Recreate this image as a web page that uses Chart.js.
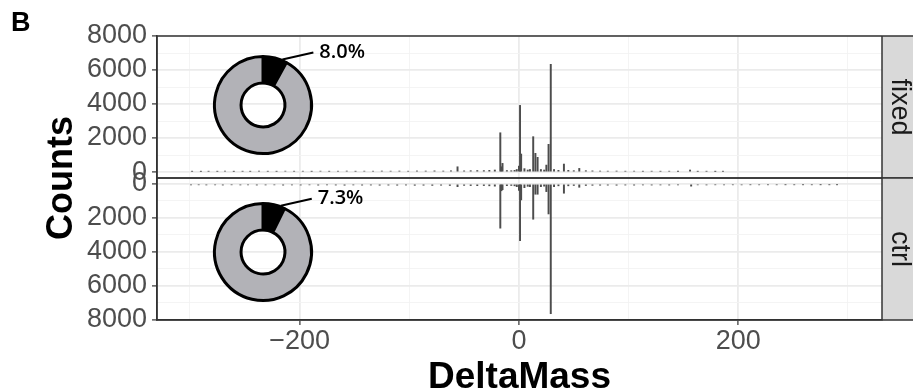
<!DOCTYPE html>
<html>
<head>
<meta charset="utf-8">
<script src="https://cdn.jsdelivr.net/npm/chart.js@4.4.1/dist/chart.umd.min.js"></script>
<style>
  html, body { margin: 0; padding: 0; background: #fff; }
  #wrap { position: relative; width: 913px; height: 392px; }
  #wrap canvas { position: absolute; }
</style>
</head>
<body>
<div id="wrap">
  <canvas id="histChart" width="913" height="392" style="left:0;top:0"></canvas>
  <canvas id="donutFixed" width="180" height="140" style="left:203px;top:25px"></canvas>
  <canvas id="donutCtrl" width="180" height="140" style="left:203px;top:172px"></canvas>
</div>
<script>
// DeltaMass bins (Da) and PSM counts
const fixedMass = [
  -298, -290, -283, -275, -268, -260, -252, -245, -237, -229, -221, -213, -205, -197, -189,
  -181, -173, -165, -157, -149, -141, -133, -125, -117, -109, -101, -93, -85, -77, -69, -62,
  -56, -50, -44, -38, -32, -27, -22, -17, -16, -15, -11, -7, -4, -2, 0, 1, 2, 5, 8, 10,
  13, 15, 17, 20, 23, 25, 27, 29, 32, 36, 41, 45, 50, 55, 61, 67, 74, 81, 89, 97,
  105, 113, 121, 129, 137, 145, 156, 163, 171, 179, 186
];
const fixedCounts = [
  40, 35, 45, 40, 50, 35, 45, 40, 50, 45, 40, 55, 45, 50, 40,
  55, 45, 50, 60, 45, 55, 50, 60, 55, 60, 50, 65, 60, 70, 60, 75,
  310, 70, 80, 90, 85, 100, 120, 2310, 310, 510, 90, 80, 100, 150, 350, 3920, 1060, 200, 120, 150,
  2080, 1100, 865, 150, 120, 410, 1630, 6335, 150, 100, 470, 100, 80, 215, 80, 70, 60, 55, 60, 50,
  55, 45, 50, 45, 50, 40, 120, 40, 45, 35, 40
];
const ctrlMass = [
  -299, -292, -285, -277, -270, -262, -254, -247, -239, -231, -223, -215, -207, -199, -191,
  -183, -175, -167, -159, -151, -143, -135, -127, -119, -111, -103, -95, -87, -79, -71, -63,
  -56, -50, -44, -38, -32, -27, -22, -17, -16, -15, -11, -7, -4, -2, 0, 1, 2, 5, 8, 10,
  13, 15, 17, 20, 23, 25, 27, 29, 32, 36, 41, 45, 50, 55, 61, 67, 74, 81, 89, 97,
  105, 113, 121, 129, 137, 145, 157, 163, 171, 179, 187, 195, 203, 211, 219, 227, 235,
  243, 251, 259, 267, 275, 283, 290
];
const ctrlCounts = [
  55, 50, 60, 55, 65, 50, 60, 55, 65, 60, 55, 70, 60, 65, 55,
  70, 60, 65, 75, 60, 70, 65, 75, 70, 75, 65, 80, 75, 85, 75, 90,
  160, 85, 95, 100, 95, 110, 130, 2600, 400, 340, 100, 90, 110, 160, 380, 3335, 940, 220, 140, 160,
  2075, 605, 605, 160, 130, 450, 1765, 7630, 160, 110, 545, 110, 90, 195, 90, 80, 75, 70, 75, 65,
  70, 60, 65, 60, 65, 55, 130, 55, 60, 50, 55, 50, 55, 45, 50, 45, 50,
  40, 45, 40, 45, 35, 40, 35
];

// share of modified PSMs (%) shown in the donuts
const fixedShare = 8.0;
const ctrlShare = 7.3;

// ticks
const yTickValues = [0, 1000, 2000, 3000, 4000, 5000, 6000, 7000, 8000];
const yLabelValues = [0, 2000, 4000, 6000, 8000];
const xTickValues = [-300, -200, -100, 0, 100, 200, 300];
const xLabelValues = [-200, 0, 200];

const FONT = "'Liberation Sans', Arial, sans-serif";
const toPoints = (xs, ys) => xs.map((x, i) => ({ x: x, y: ys[i] }));
const fmtMinus = v => v < 0 ? '\u2212' + Math.abs(v) : String(v);

function panelAxis(reverse, weight) {
  const isMajor = ctx => yLabelValues.includes(ctx.tick.value);
  return {
    type: 'linear',
    position: 'left',
    stack: 'panels',
    stackWeight: 1,
    weight: weight,
    reverse: reverse,
    min: -350,
    max: 8000,
    afterBuildTicks: s => { s.ticks = yTickValues.map(v => ({ value: v })); },
    afterFit: s => { s.width = 157; },
    border: { display: true, color: '#333333', width: 1.5 },
    grid: {
      color: ctx => isMajor(ctx) ? '#ebebeb' : '#f3f3f3',
      lineWidth: ctx => isMajor(ctx) ? 1.8 : 0.9,
      tickColor: ctx => isMajor(ctx) ? '#333333' : 'rgba(0,0,0,0)',
      tickLength: 5,
      tickWidth: 1.2
    },
    ticks: {
      color: '#4d4d4d',
      font: { family: FONT, size: 27 },
      padding: 5,
      autoSkip: false,
      callback: v => yLabelValues.includes(v) ? String(v) : ''
    }
  };
}

const facetPlugin = {
  id: 'facets',
  afterDraw(chart) {
    const { ctx, chartArea } = chart;
    [['yTop', 'fixed'], ['yBot', 'ctrl']].forEach(([id, name]) => {
      const s = chart.scales[id];
      const h = s.bottom - s.top;
      ctx.save();
      // strip on the right
      ctx.fillStyle = '#d9d9d9';
      ctx.fillRect(chartArea.right, s.top, 40, h);
      ctx.strokeStyle = '#333333';
      ctx.lineWidth = 1.5;
      ctx.strokeRect(chartArea.left, s.top, chartArea.right - chartArea.left + 40, h);
      ctx.beginPath();
      ctx.moveTo(chartArea.right, s.top);
      ctx.lineTo(chartArea.right, s.bottom);
      ctx.stroke();
      ctx.translate(899, (s.top + s.bottom) / 2);
      ctx.rotate(Math.PI / 2);
      ctx.fillStyle = '#1a1a1a';
      ctx.font = '27px ' + FONT;
      ctx.textAlign = 'center';
      ctx.textBaseline = 'middle';
      ctx.fillText(name, 0, 0);
      ctx.restore();
    });

    ctx.save();
    ctx.fillStyle = '#000000';
    // panel letter
    ctx.font = 'bold 27px ' + FONT;
    ctx.textAlign = 'left';
    ctx.textBaseline = 'alphabetic';
    ctx.fillText('B', 11, 31);
    // x title
    ctx.font = 'bold 37px ' + FONT;
    ctx.textAlign = 'center';
    ctx.fillText('DeltaMass', (chartArea.left + chartArea.right) / 2, 388);
    // y title
    ctx.font = 'bold 36px ' + FONT;
    ctx.translate(72, (chartArea.top + chartArea.bottom) / 2);
    ctx.rotate(-Math.PI / 2);
    ctx.fillText('Counts', 0, 0);
    ctx.restore();
  }
};

new Chart(document.getElementById('histChart'), {
  type: 'bar',
  data: {
    datasets: [
      {
        label: 'fixed',
        data: toPoints(fixedMass, fixedCounts),
        yAxisID: 'yTop',
        backgroundColor: '#4d4d4d',
        barThickness: 1.3,
        grouped: false
      },
      {
        label: 'ctrl',
        data: toPoints(ctrlMass, ctrlCounts),
        yAxisID: 'yBot',
        backgroundColor: '#4d4d4d',
        barThickness: 1.3,
        grouped: false
      }
    ]
  },
  options: {
    responsive: false,
    animation: false,
    layout: { padding: { top: 36, right: 31, left: 0, bottom: 0 } },
    plugins: {
      legend: { display: false },
      tooltip: { enabled: false }
    },
    scales: {
      x: {
        type: 'linear',
        min: -330,
        max: 331,
        offset: false,
        afterBuildTicks: s => { s.ticks = xTickValues.map(v => ({ value: v })); },
        afterFit: s => { s.height = 72; },
        border: { display: true, color: '#333333', width: 1.5 },
        grid: {
          offset: false,
          color: ctx => xLabelValues.includes(ctx.tick.value) ? '#ebebeb' : '#f3f3f3',
          lineWidth: ctx => xLabelValues.includes(ctx.tick.value) ? 1.8 : 0.9,
          tickColor: ctx => xLabelValues.includes(ctx.tick.value) ? '#333333' : 'rgba(0,0,0,0)',
          tickLength: 5,
          tickWidth: 1.2
        },
        ticks: {
          color: '#4d4d4d',
          font: { family: FONT, size: 27 },
          padding: 0,
          maxRotation: 0,
          autoSkip: false,
          callback: v => xLabelValues.includes(v) ? fmtMinus(v) : ''
        }
      },
      yTop: panelAxis(false, 2),
      yBot: panelAxis(true, 1)
    }
  },
  plugins: [facetPlugin]
});

// leader line + percentage label for the black slice
const donutLabel = {
  id: 'donutLabel',
  afterDatasetsDraw(chart) {
    const { ctx } = chart;
    const arc = chart.getDatasetMeta(0).data[0];
    const { x, y, startAngle, endAngle, outerRadius } =
      arc.getProps(['x', 'y', 'startAngle', 'endAngle', 'outerRadius'], true);
    const a = startAngle + 0.8 * (endAngle - startAngle);
    const x0 = x + Math.cos(a) * (outerRadius + 1);
    const y0 = y + Math.sin(a) * (outerRadius + 1);
    const x1 = x0 + 31;
    const y1 = y0 - 7;
    ctx.save();
    ctx.strokeStyle = '#000000';
    ctx.lineWidth = 2;
    ctx.beginPath();
    ctx.moveTo(x0, y0);
    ctx.lineTo(x1, y1);
    ctx.stroke();
    ctx.fillStyle = '#000000';
    ctx.font = "600 20px 'Open Sans', sans-serif";
    ctx.textAlign = 'left';
    ctx.textBaseline = 'middle';
    ctx.fillText(chart.data.datasets[0].data[0].toFixed(1) + '%', x1 + 6, y1);
    ctx.restore();
  }
};

function makeDonut(id, share) {
  new Chart(document.getElementById(id), {
    type: 'doughnut',
    data: {
      labels: ['modified', 'other'],
      datasets: [{
        data: [share, 100 - share],
        backgroundColor: ['#000000', '#b2b2b7'],
        borderColor: '#000000',
        borderWidth: 3
      }]
    },
    options: {
      responsive: false,
      animation: false,
      radius: 48.5,
      cutout: 26.5,
      layout: { padding: { top: 20, right: 60 } },
      plugins: { legend: { display: false }, tooltip: { enabled: false } }
    },
    plugins: [donutLabel]
  });
}

makeDonut('donutFixed', fixedShare);
makeDonut('donutCtrl', ctrlShare);
</script>
</body>
</html>
